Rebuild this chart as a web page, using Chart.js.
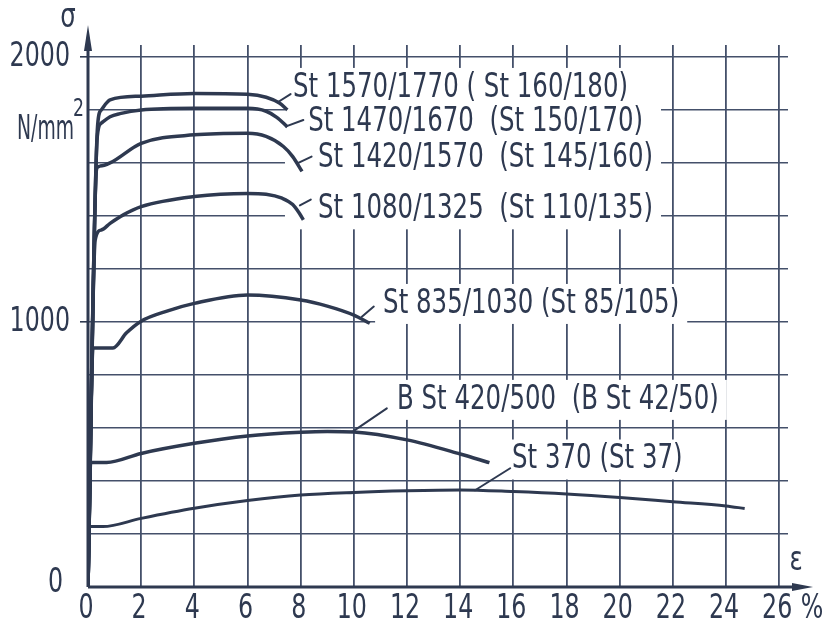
<!DOCTYPE html>
<html>
<head>
<meta charset="utf-8">
<script src="https://cdn.jsdelivr.net/npm/chart.js@4.4.1/dist/chart.umd.min.js"></script>
<style>
  body { margin: 0; background: #fff; }
  #wrap { width: 834px; height: 630px; }
</style>
</head>
<body>
<div id="wrap"><canvas id="chart"></canvas></div>
<script>
const ink = "#2e3950";
const gridInk = "#44506a";
const fontFamily = "'DejaVu Sans', sans-serif";
const squeeze = 0.72; // narrow lettering like the drawing stencil

// strain in %, stress in N/mm2
const st1570X = [0, 0.36, 0.5, 0.83, 2, 4, 6, 6.7, 7.2, 7.5];
const st1570Y = [0, 1740, 1800, 1838, 1852, 1862, 1859, 1848, 1826, 1800];

const st1470X = [0, 0.35, 0.5, 0.83, 1.2, 2, 4, 6, 6.7, 7.1, 7.5];
const st1470Y = [0, 1700, 1750, 1774, 1786, 1800, 1806, 1806, 1795, 1772, 1736];

const st1420X = [0, 0.33, 0.45, 0.83, 2, 4, 6, 6.7, 7.35, 7.7, 8.05];
const st1420Y = [0, 1580, 1588, 1600, 1674, 1706, 1712, 1700, 1662, 1624, 1568];

const st1080X = [0, 0.27, 0.5, 0.83, 1.33, 2, 4, 6, 6.7, 7.3, 7.7, 7.95, 8.1];
const st1080Y = [0, 1309, 1347, 1372, 1404, 1435, 1473, 1485, 1482, 1467, 1443, 1410, 1385];

const st835X = [0, 0.19, 0.94, 1.45, 2, 3, 4, 6, 8, 9, 10, 10.6];
const st835Y = [0, 902, 902, 959, 1003, 1042, 1070, 1102, 1083, 1060, 1026, 995];

const bst420X = [0, 0.1, 0.7, 2, 4, 6, 8, 9, 10, 12, 14, 15.1];
const bst420Y = [0, 470, 470, 504, 542, 570, 584, 587, 585, 555, 502, 469];

const st370X = [0, 0.05, 0.56, 2, 4, 6, 8, 10, 12, 14, 16, 18, 20, 22, 24, 24.7];
const st370Y = [0, 228, 228, 259, 297, 326, 347, 357, 363, 366, 360, 351, 338, 322, 306, 296];

const seriesX = [st1570X, st1470X, st1420X, st1080X, st835X, bst420X, st370X];
const seriesY = [st1570Y, st1470Y, st1420Y, st1080Y, st835Y, bst420Y, st370Y];

const labelText = [
  "St 1570/1770 ( St 160/180)",
  "St 1470/1670  (St 150/170)",
  "St 1420/1570  (St 145/160)",
  "St 1080/1325  (St 110/135)",
  "St 835/1030 (St 85/105)",
  "B St 420/500  (B St 42/50)",
  "St 370 (St 37)"
];

// label anchors (left edge, middle) and leader lines, in data units
const labelX = [7.71, 8.28, 8.65, 8.65, 11.1, 11.62, 15.95];
const labelY = [1883, 1755, 1619, 1425, 1068, 706, 481];
const leadFrom = [[7.15, 1830], [7.45, 1738], [7.91, 1600], [7.97, 1440], [10.3, 1020], [9.98, 588], [14.56, 365]];
const leadTo = [[7.62, 1860], [8.1, 1762], [8.41, 1624], [8.38, 1462], [10.75, 1058], [11.24, 674], [15.88, 448]];
const boxGroups = [[0, 1, 2, 3], [4], [5], [6]];

const xTicks = [0, 2, 4, 6, 8, 10, 12, 14, 16, 18, 20, 22, 24, 26];
const yLabelled = [0, 1000, 2000];

function narrowText(ctx, text, px, py, align, width) {
  const sx = width ? width / ctx.measureText(text).width : squeeze;
  ctx.save();
  ctx.translate(px, py);
  ctx.scale(sx, 1);
  ctx.textAlign = align;
  ctx.textBaseline = "middle";
  ctx.fillText(text, 0, 0);
  ctx.restore();
}

const annotate = {
  id: "annotate",
  beforeDatasetsDraw(chart) {
    const { ctx, scales: { x, y } } = chart;
    ctx.save();
    ctx.font = "34px " + fontFamily;
    ctx.fillStyle = "#fff";
    boxGroups.forEach(group => {
      let l = Infinity, r = -Infinity, t = Infinity, b = -Infinity;
      group.forEach(i => {
        const px = x.getPixelForValue(labelX[i]);
        const py = y.getPixelForValue(labelY[i]);
        const w = ctx.measureText(labelText[i]).width * squeeze;
        l = Math.min(l, px - 8);
        r = Math.max(r, px + w + 8);
        t = Math.min(t, py - 20);
        b = Math.max(b, py + 20);
      });
      ctx.fillRect(l, t, r - l, b - t);
    });
    ctx.restore();
  },
  afterDatasetsDraw(chart) {
    const { ctx, chartArea: a, scales: { x, y } } = chart;
    ctx.save();
    ctx.strokeStyle = ink;
    ctx.fillStyle = ink;

    // leader lines
    ctx.lineWidth = 2;
    ctx.lineCap = "round";
    leadFrom.forEach((p, i) => {
      ctx.beginPath();
      ctx.moveTo(x.getPixelForValue(p[0]), y.getPixelForValue(p[1]));
      ctx.lineTo(x.getPixelForValue(leadTo[i][0]), y.getPixelForValue(leadTo[i][1]));
      ctx.stroke();
    });

    // curve labels
    ctx.font = "34px " + fontFamily;
    labelText.forEach((t, i) => {
      narrowText(ctx, t, x.getPixelForValue(labelX[i]), y.getPixelForValue(labelY[i]), "left");
    });

    // tick labels
    ctx.font = "33px " + fontFamily;
    xTicks.forEach(v => narrowText(ctx, String(v), x.getPixelForValue(v) - 2, a.bottom + 22, "center"));
    yLabelled.forEach(v => narrowText(ctx, String(v), v === 0 ? 63 : 70, y.getPixelForValue(v) - (v === 0 ? 4 : 0), "right"));
    narrowText(ctx, "%", a.right + 24, a.bottom + 22, "center");

    // axes with arrows
    const x0 = x.getPixelForValue(0), y0 = y.getPixelForValue(0);
    ctx.lineWidth = 3;
    ctx.lineCap = "butt";
    ctx.beginPath();
    ctx.moveTo(x0, y0);
    ctx.lineTo(x0, a.top - 4);
    ctx.moveTo(x0, y0);
    ctx.lineTo(a.right + 8, y0);
    ctx.stroke();
    ctx.beginPath();
    ctx.moveTo(x0, a.top - 20);
    ctx.lineTo(x0 - 4, a.top + 6);
    ctx.lineTo(x0 + 4, a.top + 6);
    ctx.closePath();
    ctx.fill();
    ctx.beginPath();
    ctx.moveTo(a.right + 25, y0);
    ctx.lineTo(a.right + 4, y0 - 4);
    ctx.lineTo(a.right + 4, y0 + 4);
    ctx.closePath();
    ctx.fill();

    // axis titles
    ctx.font = "34px " + fontFamily;
    narrowText(ctx, "σ", x0 - 20, a.top - 27, "center");
    narrowText(ctx, "ε", a.right + 8, y0 - 26, "center");
    ctx.font = "34px " + fontFamily;
    narrowText(ctx, "N/mm", 17, y.getPixelForValue(1725), "left", 57);
    ctx.font = "24px " + fontFamily;
    narrowText(ctx, "2", 73, y.getPixelForValue(1800), "left");
    ctx.restore();
  }
};

const datasets = seriesX.map((xs, s) => ({
  data: xs.map((v, i) => ({ x: v, y: seriesY[s][i] })),
  borderColor: ink,
  borderWidth: s === 6 ? 3 : 3.5,
  pointRadius: 0,
  cubicInterpolationMode: "monotone",
  fill: false
}));

new Chart(document.getElementById("chart"), {
  type: "line",
  data: { datasets: datasets },
  options: {
    responsive: true,
    maintainAspectRatio: false,
    animation: false,
    layout: { padding: { top: 45, right: 46, left: 0, bottom: 0 } },
    plugins: { legend: { display: false }, tooltip: { enabled: false } },
    scales: {
      x: {
        type: "linear",
        min: 0,
        max: 26.33,
        border: { display: false },
        afterFit(scale) { scale.height = 43; },
        afterBuildTicks(scale) {
          scale.ticks = xTicks.map(v => ({ value: v }));
        },
        grid: { color: gridInk, lineWidth: 1.8, drawTicks: false },
        ticks: { display: false }
      },
      y: {
        min: 0,
        max: 2045,
        border: { display: false },
        afterFit(scale) { scale.width = 88; },
        afterBuildTicks(scale) {
          const t = [];
          for (let v = 0; v <= 2000; v += 200) t.push({ value: v });
          scale.ticks = t;
        },
        grid: {
          color: gridInk,
          lineWidth: 1.6,
          tickLength: 8,
          tickColor: c => (c.tick && c.tick.value > 0 && yLabelled.includes(c.tick.value)) ? ink : "transparent"
        },
        ticks: { display: false }
      }
    }
  },
  plugins: [annotate]
});
</script>
</body>
</html>
